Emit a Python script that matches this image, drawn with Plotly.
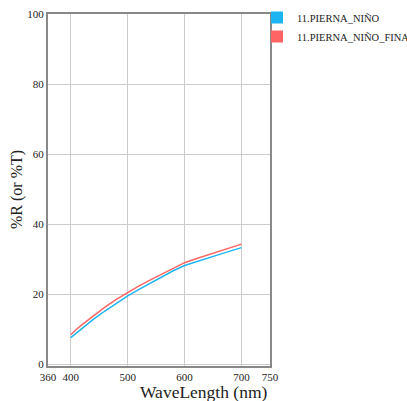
import plotly.graph_objects as go

wl_blue = [400, 420, 440, 460, 480, 500, 520, 540, 560, 580, 600, 620, 640, 660, 680, 700]
val_blue = [7.6, 10.3, 12.9, 15.2, 17.4, 19.5, 21.4, 23.2, 25.0, 26.7, 28.2, 29.3, 30.4, 31.3, 32.3, 33.3]
wl_red = [400, 410, 420, 440, 460, 480, 500, 520, 540, 560, 580, 600, 620, 640, 660, 680, 700]
val_red = [8.4, 10.0, 11.3, 13.9, 16.3, 18.5, 20.5, 22.4, 24.1, 25.8, 27.5, 29.0, 30.1, 31.2, 32.2, 33.2, 34.3]
names = ["11.PIERNA_NIÑO", "11.PIERNA_NIÑO_FINAL"]
colors = ["#1cb5f2", "#ff6464"]
x_ticks = [360, 400, 500, 600, 700, 750]
y_ticks = [0, 20, 40, 60, 80, 100]

FONT = "Liberation Serif, Times New Roman, serif"
fig = go.Figure()
for wl, v, n, c in [(wl_blue, val_blue, names[0], colors[0]), (wl_red, val_red, names[1], colors[1])]:
    fig.add_trace(go.Scatter(x=wl, y=v, mode="lines", line=dict(color=c, width=1.5),
                             showlegend=False, name=n))
for n, c in zip(names, colors):
    fig.add_trace(go.Scatter(x=[None], y=[None], mode="markers", name=n,
                             marker=dict(symbol="square", size=12, color=c)))

axis_common = dict(showline=True, linecolor="#888888", linewidth=2, mirror=True,
                   gridcolor="#cccccc", gridwidth=1, zeroline=False, tickangle=0,
                   tickfont=dict(family=FONT, size=11, color="#222222"),
                   ticks="", ticklen=0)
fig.update_xaxes(range=[360, 750], tickvals=x_ticks, **axis_common)
fig.update_yaxes(range=[-0.5, 100], tickvals=y_ticks, **axis_common)

W0, W1, H0, H1 = 48, 270, 14, 366
fig.update_layout(
    width=407, height=401,
    margin=dict(l=W0, r=407 - W1, t=H0, b=401 - H1, autoexpand=False),
    plot_bgcolor="white", paper_bgcolor="white",
    legend=dict(x=(257 - W0) / (W1 - W0), y=1.0 + 11 / (H1 - H0), xanchor="left", yanchor="top",
                xref="paper", yref="paper",
                font=dict(family=FONT, size=10.5, color="#222222"),
                bgcolor="rgba(0,0,0,0)", itemsizing="trace", tracegroupgap=0),
    annotations=[
        dict(text="WaveLength (nm)", x=(204 - W0) / (W1 - W0), y=-(392 - H1) / (H1 - H0),
             xref="paper", yref="paper",
             showarrow=False, xanchor="center", yanchor="middle",
             font=dict(family=FONT, size=17.5, color="#222222")),
        dict(text="%R (or %T)", x=-(W0 - 17) / (W1 - W0), y=0.5, xref="paper", yref="paper",
             showarrow=False, textangle=-90, xanchor="center", yanchor="middle",
             font=dict(family=FONT, size=16, color="#222222")),
    ],
)
fig.write_html("out.html", config={"displayModeBar": False},
               post_script="document.body.style.margin='0';document.body.style.overflow='hidden';")
